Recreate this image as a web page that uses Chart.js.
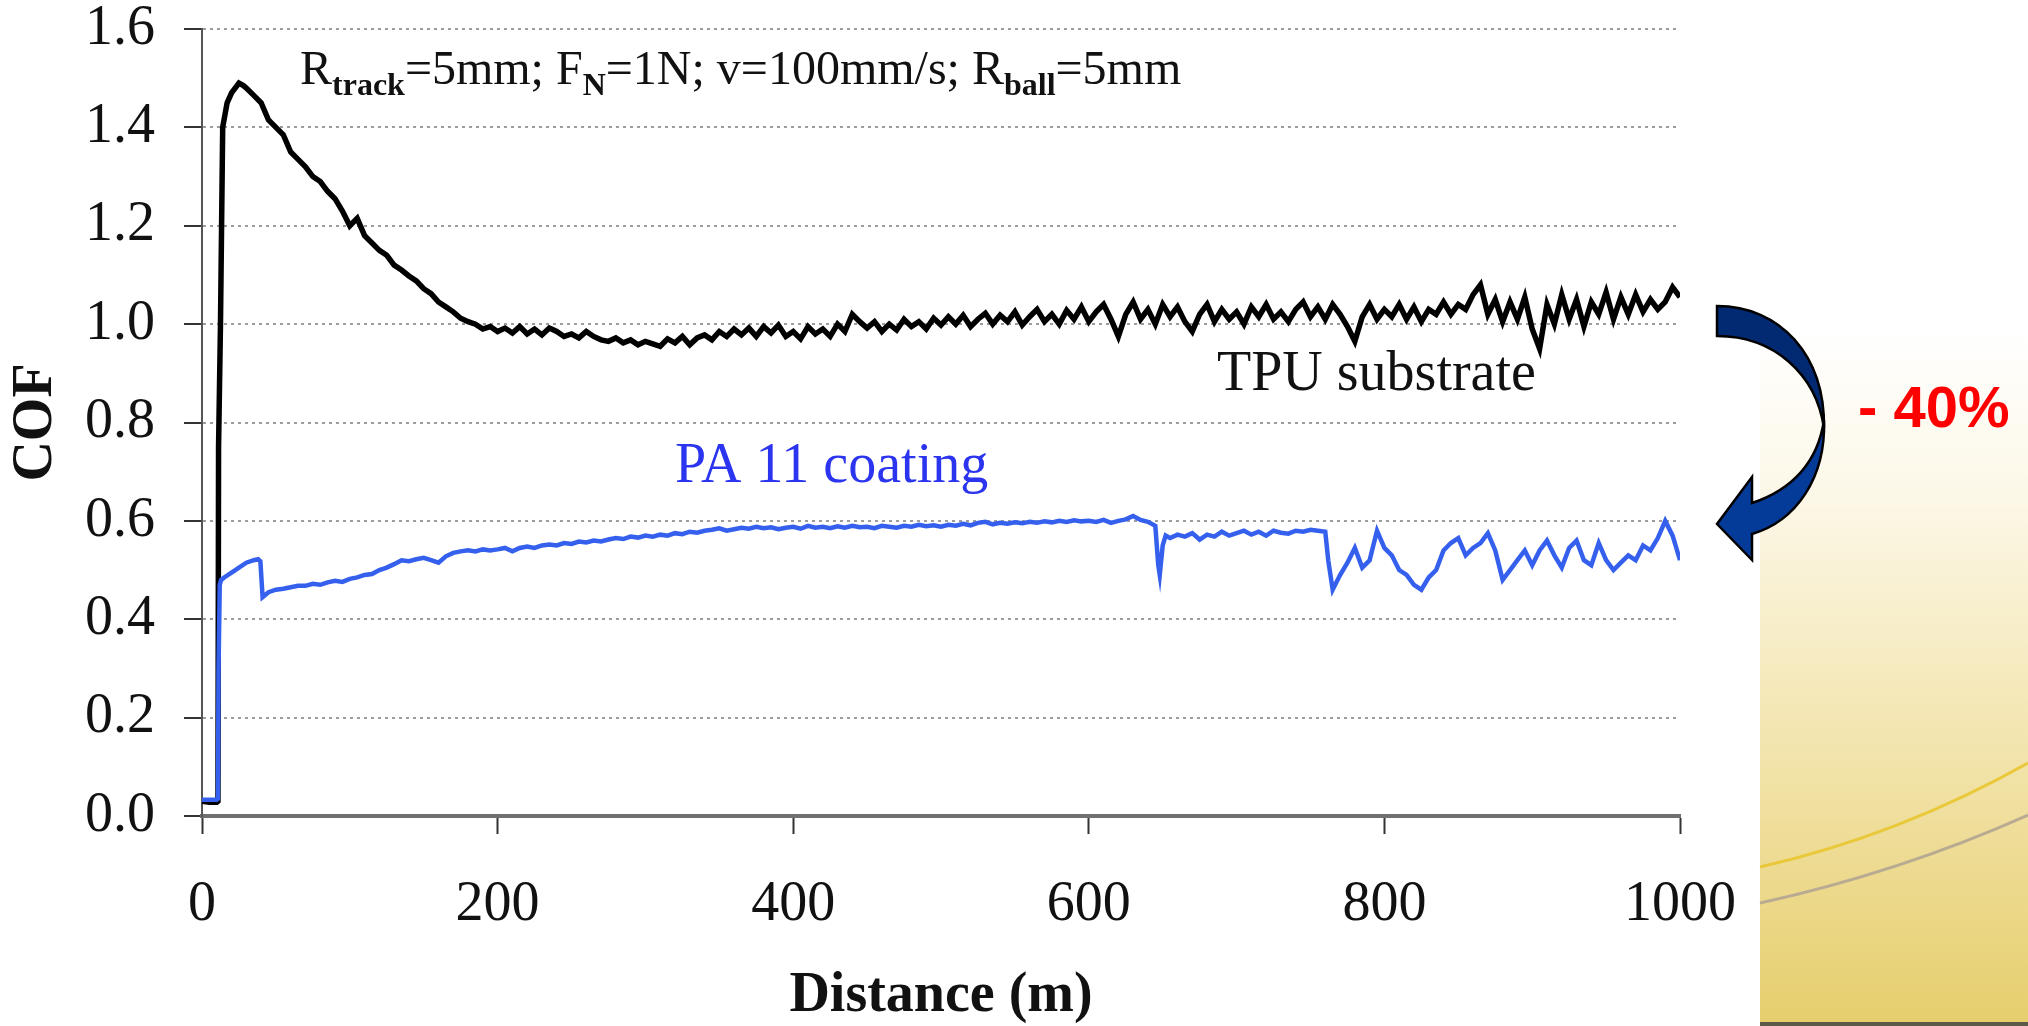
<!DOCTYPE html>
<html>
<head>
<meta charset="utf-8">
<title>COF vs Distance</title>
<script src="https://cdn.jsdelivr.net/npm/chart.js@4.4.1/dist/chart.umd.min.js"></script>
<style>
  html, body { margin: 0; padding: 0; background: #fff; overflow: hidden; }
  #wrap { width: 2028px; height: 1026px; }
</style>
</head>
<body>
<div id="wrap"><canvas id="cofChart" width="2028" height="1026"></canvas></div>
<script>
var xTicks = [0, 200, 400, 600, 800, 1000];
var yTicks = [0, 0.2, 0.4, 0.6, 0.8, 1.0, 1.2, 1.4, 1.6];

// TPU substrate (black)
var tpuDist = [0, 5, 10, 10.8, 11.2, 12.5, 14, 17, 20, 25, 28,
    30, 35, 40, 45, 50, 55, 60, 65, 70, 75,
    80, 85, 90, 95, 100, 105, 110, 115, 120, 125,
    130, 135, 140, 145, 150, 155, 160, 165, 170, 175,
    180, 185, 190, 195, 200, 205, 210, 215, 220, 225,
    230, 235, 240, 245, 250, 255, 260, 265, 270, 275,
    280, 285, 290, 295, 300, 305, 310, 315, 320, 325,
    330, 335, 340, 345, 350, 355, 360, 365, 370, 375,
    380, 385, 390, 395, 400, 405, 410, 415, 420, 425,
    430, 435, 440, 445, 450, 455, 460, 465, 470, 475,
    480, 485, 490, 495, 500, 505, 510, 515, 520, 525,
    530, 535, 540, 545, 550, 555, 560, 565, 570, 575,
    580, 585, 590, 595, 600, 605, 610, 615, 620, 625,
    630, 635, 640, 645, 650, 655, 660, 665, 670, 675,
    680, 685, 690, 695, 700, 705, 710, 715, 720, 725,
    730, 735, 740, 745, 750, 755, 760, 765, 770, 775,
    780, 785, 790, 795, 800, 805, 810, 815, 820, 825,
    830, 835, 840, 845, 850, 855, 860, 865, 870, 875,
    880, 885, 890, 895, 900, 905, 910, 915, 920, 925,
    930, 935, 940, 945, 950, 955, 960, 965, 970, 975,
    980, 985, 990, 995, 1000];
var tpuCof = [0.03, 0.028, 0.028, 0.03, 0.75, 1.00, 1.40, 1.45, 1.47, 1.49, 1.485,
    1.480, 1.465, 1.450, 1.415, 1.400, 1.385, 1.350, 1.335, 1.320, 1.300,
    1.290, 1.270, 1.255, 1.230, 1.200, 1.215, 1.180, 1.165, 1.150, 1.140,
    1.120, 1.110, 1.098, 1.088, 1.072, 1.062, 1.045, 1.035, 1.025, 1.012,
    1.005, 1.000, 0.990, 0.995, 0.985, 0.992, 0.982, 0.995, 0.980, 0.990,
    0.978, 0.992, 0.985, 0.975, 0.980, 0.972, 0.985, 0.975, 0.968, 0.965,
    0.972, 0.962, 0.968, 0.958, 0.965, 0.960, 0.955, 0.970, 0.962, 0.975,
    0.958, 0.972, 0.978, 0.968, 0.985, 0.975, 0.990, 0.978, 0.992, 0.975,
    0.995, 0.982, 0.998, 0.975, 0.985, 0.970, 0.995, 0.980, 0.990, 0.975,
    1.000, 0.985, 1.020, 1.005, 0.992, 1.005, 0.985, 1.000, 0.988, 1.010,
    0.995, 1.005, 0.990, 1.012, 0.998, 1.015, 1.000, 1.018, 0.995, 1.010,
    1.022, 1.000, 1.018, 1.005, 1.025, 0.998, 1.015, 1.030, 1.005, 1.020,
    1.000, 1.028, 1.010, 1.035, 1.005, 1.025, 1.040, 1.010, 0.975, 1.020,
    1.045, 1.010, 1.030, 1.000, 1.040, 1.015, 1.035, 1.005, 0.985, 1.020,
    1.040, 1.005, 1.030, 1.010, 1.025, 1.000, 1.035, 1.015, 1.040, 1.010,
    1.025, 1.005, 1.030, 1.045, 1.015, 1.035, 1.010, 1.040, 1.020, 0.995,
    0.965, 1.015, 1.040, 1.010, 1.030, 1.015, 1.040, 1.010, 1.035, 1.005,
    1.030, 1.020, 1.045, 1.020, 1.040, 1.030, 1.060, 1.080, 1.020, 1.050,
    1.005, 1.045, 1.010, 1.055, 0.990, 0.950, 1.040, 1.000, 1.060, 1.010,
    1.050, 0.995, 1.045, 1.020, 1.065, 1.010, 1.055, 1.020, 1.060, 1.025,
    1.050, 1.030, 1.045, 1.075, 1.055];

// PA 11 coating (blue)
var paDist = [0, 5, 10, 10.8, 11.2, 12, 13, 15, 20, 25, 30, 35, 38, 39.5, 41, 43, 45,
    50, 55, 60, 65, 70, 75, 80, 85, 90, 95,
    100, 105, 110, 115, 120, 125, 130, 135, 140, 145,
    150, 155, 160, 165, 170, 175, 180, 185, 190, 195,
    200, 205, 210, 215, 220, 225, 230, 235, 240, 245,
    250, 255, 260, 265, 270, 275, 280, 285, 290, 295,
    300, 305, 310, 315, 320, 325, 330, 335, 340, 345,
    350, 355, 360, 365, 370, 375, 380, 385, 390, 395,
    400, 405, 410, 415, 420, 425, 430, 435, 440, 445,
    450, 455, 460, 465, 470, 475, 480, 485, 490, 495,
    500, 505, 510, 515, 520, 525, 530, 535, 540, 545,
    550, 555, 560, 565, 570, 575, 580, 585, 590, 595,
    600, 605, 610, 615, 620, 625, 630, 635, 640, 645,
    647, 648, 650, 652,
    655, 660, 665, 670, 675, 680, 685, 690, 695, 700,
    705, 710, 715, 720, 725, 730, 735, 740, 745, 750, 755, 760,
    762, 765,
    770, 775, 780, 785, 790, 795, 800, 805, 810, 815,
    820, 825, 830, 835, 840, 845, 850, 855, 860, 865,
    870, 875, 880, 885, 890, 895, 900, 905, 910, 915,
    920, 925, 930, 935, 940, 945, 950, 955, 960, 965,
    970, 975, 980, 985, 990, 995, 1000];
var paCof = [0.033, 0.033, 0.033, 0.035, 0.30, 0.47, 0.48, 0.485, 0.495, 0.505, 0.515, 0.520, 0.522, 0.518, 0.445, 0.450, 0.455,
    0.460, 0.462, 0.465, 0.468, 0.468, 0.472, 0.470, 0.475, 0.478, 0.476,
    0.482, 0.485, 0.490, 0.492, 0.500, 0.505, 0.512, 0.520, 0.518, 0.522,
    0.525, 0.520, 0.515, 0.528, 0.535, 0.538, 0.540, 0.538, 0.542, 0.540,
    0.542, 0.545, 0.538, 0.545, 0.548, 0.545, 0.550, 0.552, 0.550, 0.555,
    0.553, 0.558, 0.556, 0.560, 0.558, 0.562, 0.565, 0.563, 0.568, 0.566,
    0.570, 0.568, 0.572, 0.570, 0.575, 0.573, 0.578, 0.576, 0.580, 0.582,
    0.585, 0.580, 0.583, 0.586, 0.584, 0.588, 0.585, 0.587, 0.583, 0.586,
    0.588, 0.584, 0.590, 0.586, 0.588, 0.585, 0.589, 0.586, 0.590, 0.587,
    0.588, 0.585, 0.590, 0.588, 0.586, 0.590, 0.588, 0.592, 0.589, 0.591,
    0.588, 0.592, 0.590, 0.594, 0.591, 0.596, 0.598, 0.593, 0.596, 0.594,
    0.597, 0.595, 0.598, 0.596, 0.599, 0.597, 0.600, 0.598, 0.601, 0.599,
    0.600, 0.598, 0.602, 0.596, 0.600, 0.603, 0.610, 0.602, 0.598, 0.590,
    0.510, 0.490, 0.550, 0.570,
    0.565, 0.572, 0.568, 0.575, 0.562, 0.572, 0.568, 0.578, 0.570, 0.575,
    0.580, 0.572, 0.578, 0.570, 0.580, 0.576, 0.574, 0.580, 0.578, 0.582, 0.580, 0.578,
    0.520, 0.460,
    0.490, 0.515, 0.545, 0.505, 0.520, 0.580, 0.545, 0.530, 0.500, 0.490,
    0.470, 0.460, 0.485, 0.500, 0.540, 0.555, 0.565, 0.530, 0.545, 0.555,
    0.575, 0.540, 0.480, 0.500, 0.520, 0.540, 0.510, 0.540, 0.560, 0.530,
    0.505, 0.545, 0.560, 0.520, 0.510, 0.555, 0.520, 0.500, 0.515, 0.530,
    0.520, 0.550, 0.540, 0.565, 0.600, 0.570, 0.520];

var serif = "'Liberation Serif', 'Times New Roman', serif";

function toPoints(xs, ys) {
    var pts = [];
    for (var i = 0; i < xs.length; i++) {
        pts.push({ x: xs[i], y: ys[i] });
    }
    return pts;
}

// text with subscripts, parts = [text, isSub]
function drawRichText(ctx, parts, x, y) {
    for (var i = 0; i < parts.length; i++) {
        var sub = parts[i][1];
        ctx.font = sub ? "bold 32px " + serif : "48px " + serif;
        ctx.fillText(parts[i][0], x, sub ? y + 11 : y);
        x += ctx.measureText(parts[i][0]).width;
    }
}

function drawArrow(ctx) {
    ctx.save();
    ctx.lineWidth = 2.5;
    ctx.strokeStyle = "#000";
    ctx.lineJoin = "miter";
    // upper half of the bent arrow
    ctx.beginPath();
    ctx.moveTo(1717, 306);
    ctx.bezierCurveTo(1780, 306, 1825, 355, 1824, 428);
    ctx.bezierCurveTo(1816, 374, 1774, 336, 1717, 336);
    ctx.closePath();
    ctx.fillStyle = "#022a72";
    ctx.fill();
    ctx.stroke();
    // lower half with the head
    ctx.beginPath();
    ctx.moveTo(1824, 420);
    ctx.bezierCurveTo(1826, 478, 1796, 521, 1752, 534);
    ctx.lineTo(1752, 560);
    ctx.lineTo(1717, 524);
    ctx.lineTo(1752, 477);
    ctx.lineTo(1752, 503);
    ctx.bezierCurveTo(1792, 490, 1818, 462, 1824, 420);
    ctx.closePath();
    ctx.fillStyle = "#053b98";
    ctx.fill();
    ctx.stroke();
    ctx.restore();
}

var decorPlugin = {
    id: "decor",
    beforeDraw: function (chart) {
        var ctx = chart.ctx;
        ctx.save();
        ctx.fillStyle = "#ffffff";
        ctx.fillRect(0, 0, chart.width, chart.height);
        // slide background on the right
        var g = ctx.createLinearGradient(0, 330, 0, 1026);
        g.addColorStop(0, "#ffffff");
        g.addColorStop(0.25, "#fcf7e6");
        g.addColorStop(0.55, "#f4e7b5");
        g.addColorStop(1, "#e6ce6c");
        ctx.fillStyle = g;
        ctx.fillRect(1760, 0, 268, 1026);
        ctx.lineWidth = 3;
        ctx.strokeStyle = "#e9c83a";
        ctx.beginPath();
        ctx.moveTo(1760, 867);
        ctx.quadraticCurveTo(1900, 835, 2028, 763);
        ctx.stroke();
        ctx.strokeStyle = "#b9ab92";
        ctx.beginPath();
        ctx.moveTo(1760, 903);
        ctx.quadraticCurveTo(1900, 872, 2028, 815);
        ctx.stroke();
        ctx.fillStyle = "#5e5a4a";
        ctx.fillRect(1760, 1022, 268, 4);
        ctx.restore();
    },
    afterDraw: function (chart) {
        var ctx = chart.ctx;
        ctx.save();
        ctx.textBaseline = "alphabetic";
        ctx.textAlign = "left";
        ctx.fillStyle = "#111";
        drawRichText(ctx, [["R", false], ["track", true], ["=5mm; F", false], ["N", true],
            ["=1N; v=100mm/s; R", false], ["ball", true], ["=5mm", false]], 300, 84);
        ctx.font = "56px " + serif;
        ctx.fillStyle = "#111";
        ctx.fillText("TPU substrate", 1217, 390);
        ctx.fillStyle = "#2b34ee";
        ctx.fillText("PA 11 coating", 675, 482);
        drawArrow(ctx);
        ctx.fillStyle = "#ff0000";
        ctx.font = "bold 58px 'Liberation Sans', Arial, sans-serif";
        ctx.fillText("- 40%", 1858, 427);
        ctx.restore();
    }
};

function buildChart() {
    var ctx = document.getElementById("cofChart").getContext("2d");
    var cofChart = new Chart(ctx, {
        type: "line",
        data: {
            datasets: [{
                label: "PA 11 coating",
                data: toPoints(paDist, paCof),
                borderColor: "#3560ee",
                borderWidth: 4.5,
                pointRadius: 0,
                tension: 0
            }, {
                label: "TPU substrate",
                data: toPoints(tpuDist, tpuCof),
                borderColor: "#000000",
                borderWidth: 5.5,
                pointRadius: 0,
                tension: 0
            }]
        },
        options: {
            responsive: false,
            animation: false,
            events: [],
            layout: { padding: { top: 29, right: 348, bottom: 0, left: 0 } },
            plugins: {
                legend: { display: false },
                tooltip: { enabled: false }
            },
            scales: {
                x: {
                    type: "linear",
                    min: 0,
                    max: 1000,
                    afterBuildTicks: function (scale) {
                        scale.ticks = xTicks.map(function (v) { return { value: v }; });
                    },
                    afterFit: function (scale) {
                        scale.height = 210;
                        scale.paddingLeft = 0; scale.paddingRight = 0;
                        scale.paddingTop = 0; scale.paddingBottom = 0;
                    },
                    ticks: {
                        color: "#111",
                        font: { family: serif, size: 56 },
                        padding: 38,
                        maxRotation: 0,
                        autoSkip: false,
                        callback: function (v) { return String(v); }
                    },
                    grid: {
                        drawOnChartArea: false,
                        drawTicks: true,
                        tickLength: 18,
                        tickColor: "#333",
                        tickWidth: 2
                    },
                    border: { display: true, color: "#707070", width: 4 },
                    title: {
                        display: true,
                        text: "Distance (m)",
                        color: "#111",
                        font: { family: serif, size: 56, weight: "bold", lineHeight: 1.05 },
                        padding: { top: 0, bottom: 0 }
                    }
                },
                y: {
                    min: 0,
                    max: 1.6,
                    afterBuildTicks: function (scale) {
                        scale.ticks = yTicks.map(function (v) { return { value: v }; });
                    },
                    afterFit: function (scale) {
                        scale.width = 202;
                        scale.paddingLeft = 0; scale.paddingRight = 0;
                        scale.paddingTop = 0; scale.paddingBottom = 0;
                    },
                    ticks: {
                        color: "#111",
                        font: { family: serif, size: 56 },
                        padding: 29,
                        autoSkip: false,
                        callback: function (v) { return Number(v).toFixed(1); }
                    },
                    grid: {
                        color: "#9c9c9c",
                        lineWidth: 2,
                        drawTicks: true,
                        tickLength: 18,
                        tickColor: "#333",
                        tickWidth: 2
                    },
                    border: { display: true, color: "#555", width: 2, dash: [3, 4] },
                    title: {
                        display: true,
                        text: "COF",
                        color: "#111",
                        font: { family: serif, size: 56, weight: "bold", lineHeight: 1.05 },
                        padding: { top: 7, bottom: 0 }
                    }
                }
            }
        },
        plugins: [decorPlugin]
    });
    return cofChart;
}

buildChart();
</script>
</body>
</html>
